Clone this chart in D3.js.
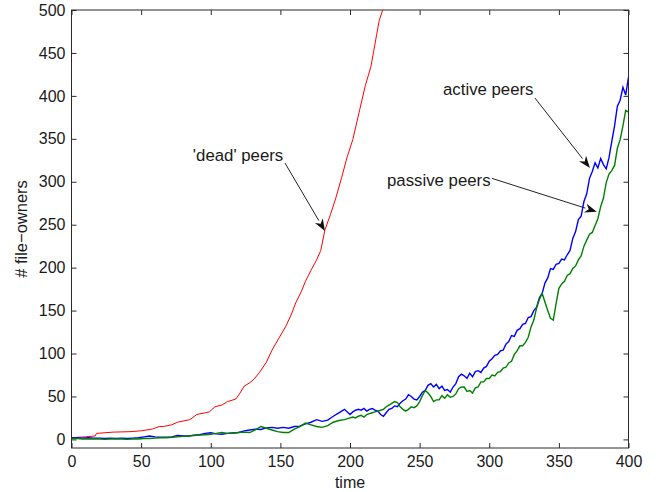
<!DOCTYPE html>
<html lang="en">
<head>
<meta charset="UTF-8">
<title>File owners over time</title>
<script src="https://d3js.org/d3.v7.min.js"></script>
<style>
  body { margin: 0; background: #fff; }
  svg text { font-family: "Liberation Sans", Arial, sans-serif; fill: #1a1a1a; }
</style>
</head>
<body>
<div id="chart"></div>
<script>
// 'dead' peers (red)
const deadTime = [0, 10, 17, 18, 30, 42, 50, 58, 63, 66, 72, 76, 85, 90, 96, 99, 103, 108, 112, 118,
  121, 124, 128, 131, 135, 140, 144, 149, 154, 158, 161, 165, 168, 172, 176, 179, 182, 186, 190, 194,
  198, 202, 205, 207, 211, 215, 217, 219, 221, 223.5, 225];
const deadPeers = [2, 3, 4, 7, 8.5, 9, 10, 12, 15, 15, 17, 20, 23, 29, 31, 32, 38, 40, 44, 47,
  54, 62, 66, 70, 78, 90, 104, 118, 132, 146, 159, 172, 184, 197, 209, 220, 244, 262, 282, 305,
  329, 349, 370, 384, 412, 434, 452, 470, 488, 500, 512];

// shared time axis for active / passive peers
const earlyTime = d3.range(0, 201, 4);
const lateTime = d3.range(202, 401, 2);
const peerTime = earlyTime.concat(lateTime);

const activePeers = [
  2, 2, 1.5, 2, 1.5, 1.5, 1, 1.5, 1, 1.5, 1, 1.5, 2, 3, 4, 3, 2.5, 2.5, 3, 4.5,
  4, 4, 5, 5.5, 7, 7.8, 6.5, 6, 7, 7.5, 8, 10, 11, 12, 11.5, 13.5, 14, 13, 14, 13,
  15, 15.5, 18, 20, 23, 21, 22.5, 27, 31, 35, 29,
  32, 34, 35, 34, 36, 33, 35, 36, 34, 33,
  29, 27, 31, 35, 36, 39, 38, 42, 45, 47,
  52, 50, 47, 46, 50, 55, 57, 63, 65, 61,
  64, 59, 62, 57, 58, 55, 61, 65, 73, 76,
  74, 71, 77, 73, 79, 80, 78, 83, 85, 91,
  94, 98, 99, 103, 104, 111, 114, 121, 120, 127,
  129, 134, 135, 142, 143, 150, 154, 165, 170, 182,
  188, 199, 198, 204, 205, 210, 209, 215, 220, 234,
  242, 256, 260, 277, 286, 304, 312, 322, 316, 327,
  320, 315, 328, 347, 365, 388, 395, 410, 401, 422];

const passivePeers = [
  1, 1, 0.5, 0.5, 0.5, 0.5, 0, 0.5, 0.5, 0.5, 0, 0.5, 0.5, 1, 1, 1.5, 2, 2, 2.5, 3,
  3.5, 4, 4.5, 5, 5.5, 6, 7, 8, 7, 7.5, 8, 8.5, 8, 11, 15, 13, 11, 9, 8, 8,
  12, 15, 19, 17, 15, 14, 16, 20, 22, 23, 25,
  26, 25, 27, 28, 26, 29, 30, 31, 32, 33,
  34, 35, 38, 40, 42, 44, 43, 38, 35, 33,
  35, 38, 37, 39, 44, 51, 57, 54, 50, 44,
  46, 46, 51, 48, 52, 49, 50, 53, 59, 61,
  61, 56, 57, 54, 60, 61, 67, 67, 71, 71,
  75, 74, 78, 79, 83, 84, 89, 91, 99, 103,
  109, 109, 113, 119, 131, 139, 153, 163, 170, 160,
  150, 141, 139, 158, 176, 181, 184, 191, 193, 199,
  202, 209, 214, 225, 232, 239, 241, 249, 257, 271,
  281, 299, 309, 313, 319, 339, 349, 365, 383, 381];

const xTicks = [0, 50, 100, 150, 200, 250, 300, 350, 400];
const yTicks = [0, 50, 100, 150, 200, 250, 300, 350, 400, 450, 500];

// annotations: label, label position, arrow start, arrow tip (data units)
const noteLabels = ["'dead' peers", "active peers", "passive peers"];
const noteAnchor = ["middle", "start", "start"];
const noteTextPos = [[119.6, 331], [266.8, 407.7], [226.6, 302]];
const noteFrom = [[153.3, 321.8], [332.8, 397.5], [301.8, 304]];
const noteTo = [[182.0, 242.7], [372.3, 316], [377.2, 265.1]];

const W = 656, H = 492;
const plotL = 71.5, plotR = 628.5, plotT = 10, plotB = 448;

const svg = d3.select("#chart").append("svg")
  .attr("width", W).attr("height", H);

const x = d3.scaleLinear().domain([0, 400]).range([plotL, plotR]);
const y = d3.scaleLinear().domain([-10, 500]).range([plotB, plotT]);

svg.append("defs").append("clipPath").attr("id", "plot")
  .append("rect")
  .attr("x", plotL).attr("y", plotT)
  .attr("width", plotR - plotL).attr("height", plotB - plotT);

const axisColor = "#2a2a2a";

function styleAxis(g) {
  g.select(".domain").remove();
  g.selectAll(".tick line").attr("stroke", axisColor);
  g.selectAll(".tick text").attr("font-size", 16).attr("fill", "#1a1a1a");
}

svg.append("g")
  .attr("transform", `translate(0,${plotB})`)
  .call(d3.axisBottom(x).tickValues(xTicks).tickSize(-5).tickPadding(8))
  .call(styleAxis);

svg.append("g")
  .attr("transform", `translate(0,${plotT})`)
  .call(d3.axisTop(x).tickValues(xTicks).tickSize(-5).tickFormat(""))
  .call(styleAxis);

svg.append("g")
  .attr("transform", `translate(${plotL},0)`)
  .call(d3.axisLeft(y).tickValues(yTicks).tickSize(-5).tickPadding(6))
  .call(styleAxis);

svg.append("g")
  .attr("transform", `translate(${plotR},0)`)
  .call(d3.axisRight(y).tickValues(yTicks).tickSize(-5).tickFormat(""))
  .call(styleAxis);

svg.append("rect")
  .attr("x", plotL).attr("y", plotT)
  .attr("width", plotR - plotL).attr("height", plotB - plotT)
  .attr("fill", "none").attr("stroke", axisColor).attr("stroke-width", 1);

const line = d3.line().x(d => x(d[0])).y(d => y(d[1]));

const lines = svg.append("g").attr("clip-path", "url(#plot)");

lines.append("path")
  .datum(d3.zip(deadTime, deadPeers))
  .attr("d", line).attr("fill", "none")
  .attr("stroke", "#ff0000").attr("stroke-width", 1);

lines.append("path")
  .datum(d3.zip(peerTime, activePeers))
  .attr("d", line).attr("fill", "none")
  .attr("stroke", "#0000ff").attr("stroke-width", 1.4);

lines.append("path")
  .datum(d3.zip(peerTime, passivePeers))
  .attr("d", line).attr("fill", "none")
  .attr("stroke", "#008000").attr("stroke-width", 1.4);

// axis labels
svg.append("text")
  .attr("x", x(200)).attr("y", 488)
  .attr("text-anchor", "middle").attr("font-size", 16)
  .text("time");

svg.append("text")
  .attr("transform", `translate(21,${(plotT + plotB) / 2}) rotate(-90)`)
  .attr("text-anchor", "middle").attr("dominant-baseline", "central")
  .attr("font-size", 16.5)
  .text("# file\u2212owners");

// annotations
noteLabels.forEach((label, i) => {
  svg.append("text")
    .attr("x", x(noteTextPos[i][0])).attr("y", y(noteTextPos[i][1]))
    .attr("text-anchor", noteAnchor[i]).attr("dominant-baseline", "central")
    .attr("font-size", 16.8)
    .text(label);

  const x0 = x(noteFrom[i][0]), y0 = y(noteFrom[i][1]);
  const x1 = x(noteTo[i][0]), y1 = y(noteTo[i][1]);
  const ang = Math.atan2(y1 - y0, x1 - x0);
  const len = 12, half = 4.5;
  const bx = x1 - len * Math.cos(ang), by = y1 - len * Math.sin(ang);
  const nx = -Math.sin(ang), ny = Math.cos(ang);

  svg.append("line")
    .attr("x1", x0).attr("y1", y0).attr("x2", bx).attr("y2", by)
    .attr("stroke", "#222").attr("stroke-width", 1);

  const notchX = x1 - (len * 0.7) * Math.cos(ang), notchY = y1 - (len * 0.7) * Math.sin(ang);
  svg.append("path")
    .attr("d", `M${x1},${y1}L${bx + half * nx},${by + half * ny}L${notchX},${notchY}L${bx - half * nx},${by - half * ny}Z`)
    .attr("fill", "#111");
});
</script>
</body>
</html>
